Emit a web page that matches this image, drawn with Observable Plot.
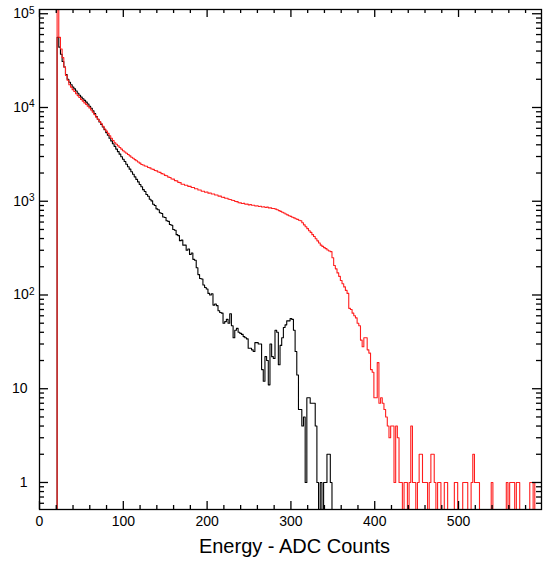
<!DOCTYPE html>
<html><head><meta charset="utf-8">
<script src="https://cdn.jsdelivr.net/npm/d3@7"></script>
<script src="https://cdn.jsdelivr.net/npm/@observablehq/plot@0.6"></script>
<style>body{margin:0;background:#fff}</style>
</head><body><div id="chart"></div>
<script>
// Histogram bins: left edge of first bin (ADC) and bin width
const binStart = 19;
const binWidth = 2;

// Red spectrum counts per bin (starting at ADC 19)
const redCounts = [
  0, 200000, 56000, 42000, 34000, 27000, 22000, 19500, 17500, 16500,
  15500, 14800, 14000, 13400, 12800, 12200, 11700, 11200, 10800, 10300,
  9900, 9400, 8900, 8400, 7900, 7500, 7100, 6700, 6300, 5900,
  5600, 5300, 5000, 4700, 4450, 4200, 4050, 3900, 3750, 3600,
  3450, 3350, 3250, 3150, 3050, 2950, 2870, 2780, 2700, 2620,
  2550, 2470, 2440, 2380, 2360, 2290, 2270, 2210, 2190, 2130,
  2110, 2050, 2030, 1970, 1950, 1890, 1870, 1810, 1790, 1730,
  1720, 1660, 1650, 1590, 1580, 1520, 1520, 1480, 1480, 1440,
  1440, 1400, 1400, 1360, 1360, 1320, 1320, 1280, 1280, 1245,
  1255, 1220, 1225, 1195, 1195, 1165, 1165, 1135, 1135, 1105,
  1100, 1075, 1075, 1050, 1045, 1025, 1020, 995, 990, 965,
  960, 945, 948, 928, 932, 915, 920, 905, 906, 890,
  895, 880, 885, 868, 875, 858, 865, 850, 850, 838,
  836, 825, 812, 795, 780, 762, 748, 730, 716, 700,
  690, 675, 665, 650, 640, 628, 620, 590, 560, 535,
  510, 485, 465, 440, 420, 398, 378, 358, 340, 330,
  320, 312, 302, 295, 290, 250, 206, 190, 172, 158,
  143, 132, 122, 112, 104, 72, 70, 64, 60, 57,
  50, 47, 33, 28, 35, 35, 26, 24, 16, 15,
  8, 8, 19, 7, 8, 7, 6, 5, 4, 3,
  4, 4, 1, 4, 3, 1, 1, 0, 1, 1,
  0, 1, 4, 1, 1, 0, 1, 2, 2, 1,
  1, 1, 0, 1, 2, 2, 1, 0, 1, 1,
  0, 0, 1, 1, 0, 0, 0, 0, 1, 1,
  0, 0, 0, 1, 1, 1, 0, 0, 1, 2,
  1, 1, 1, 0, 0, 0, 0, 0, 0, 0,
  1, 0, 0, 0, 0, 0, 0, 0, 0, 1,
  0, 1, 1, 1, 0, 1, 1, 0, 0, 0,
  0, 0, 0, 1, 1, 0, 1, 1, 1, 1,
  1
];

// Black spectrum counts per bin (starting at ADC 19)
const blackCounts = [
  0, 56000, 44000, 37000, 31000, 27000, 22500, 20000, 18600, 17500,
  16500, 15800, 15000, 14200, 13500, 12900, 12400, 11900, 11400, 10900,
  10300, 9800, 9200, 8600, 8000, 7500, 7000, 6600, 6200, 5800,
  5400, 5050, 4700, 4400, 4100, 3850, 3600, 3380, 3180, 2980,
  2800, 2650, 2480, 2330, 2200, 2060, 1940, 1820, 1710, 1610,
  1510, 1430, 1330, 1270, 1180, 1130, 1050, 1010, 930, 900,
  830, 810, 755, 740, 680, 670, 620, 610, 565, 555,
  500, 490, 440, 430, 380, 385, 340, 340, 300, 310,
  270, 280, 240, 235, 195, 165, 150, 148, 128, 120,
  116, 104, 100, 103, 78, 80, 77, 68, 65, 64,
  50, 52, 55, 50, 63, 47, 35, 42, 44, 40,
  39, 38, 36, 35, 34, 27, 27, 26, 25, 31,
  31, 30, 30, 16, 12, 22, 20, 11, 30, 22,
  21, 42, 40, 18, 29, 35, 45, 48, 53, 53,
  56, 55, 42, 25, 14, 6, 6, 4, 5, 1,
  8, 8, 7, 7, 7, 4, 1, 0, 1, 0,
  1, 1, 2, 2, 1, 0
];

const xTicks = [0, 100, 200, 300, 400, 500];
const yTicks = [1, 10, 100, 1000, 10000, 100000];
const yTickLabels = ["1", "10", "10^2", "10^3", "10^4", "10^5"];
const xLabel = "Energy - ADC Counts";

const W = 543, H = 561;
const mL = 39, mR = 2, mT = 9, mB = 52;
const pw = W - mL - mR, ph = H - mT - mB;

function toSeries(counts) {
  const pts = counts.map((c, i) => ({x: binStart + i * binWidth, y: c > 0 ? c : 0.05}));
  const last = pts[pts.length - 1];
  pts.push({x: last.x + binWidth, y: last.y});
  return pts;
}
const red = toSeries(redCounts);
const black = toSeries(blackCounts);

const yMinor = [];
for (let e = -1; e <= 4; e++) for (let k = 2; k <= 9; k++) {
  const v = k * Math.pow(10, e);
  if (v >= 0.52 && v <= 1.1e5) yMinor.push(v);
}
const xMinor = d3.range(0, 600, 20).filter(v => v % 100 !== 0);

const tickStyle = {stroke: "#000", strokeWidth: 1.3};

const plot = Plot.plot({
  width: W, height: H,
  marginLeft: mL, marginRight: mR, marginTop: mT, marginBottom: mB,
  style: {background: "#fff", color: "#000", fontFamily: "'Liberation Sans', Arial, Helvetica, sans-serif", fontSize: "14px"},
  x: {domain: [0, 599]},
  y: {type: "log", domain: [0.515, 1.11e5]},
  marks: [
    Plot.lineY(black, {x: "x", y: "y", curve: "step-after", stroke: "#000", strokeWidth: 1.1, clip: true}),
    Plot.lineY(red, {x: "x", y: "y", curve: "step-after", stroke: "#ff1e1e", strokeWidth: 1.1, clip: true}),
    Plot.frame({stroke: "#000", strokeWidth: 1.3}),
    Plot.ruleY(yTicks, {...tickStyle, insetRight: pw - 9}),
    Plot.ruleY(yTicks, {...tickStyle, insetLeft: pw - 9}),
    Plot.ruleY(yMinor, {...tickStyle, insetRight: pw - 5}),
    Plot.ruleY(yMinor, {...tickStyle, insetLeft: pw - 5}),
    Plot.ruleX(xTicks, {...tickStyle, insetTop: ph - 8}),
    Plot.ruleX(xTicks, {...tickStyle, insetBottom: ph - 8}),
    Plot.ruleX(xMinor, {...tickStyle, insetTop: ph - 4}),
    Plot.ruleX(xMinor, {...tickStyle, insetBottom: ph - 4}),
    Plot.axisX({ticks: xTicks, tickSize: 0, tickPadding: 7, label: null}),
    Plot.axisY({ticks: yTicks, tickSize: 0, tickPadding: 5, label: null,
      tickFormat: d => yTickLabels[yTicks.indexOf(d)]}),
    Plot.text([xLabel], {text: d => d, frameAnchor: "bottom", dy: 43, dx: 4, fontSize: 20})
  ]
});

d3.select(plot).selectAll("text").each(function () {
  const t = this.textContent;
  const m = /^10\^(\d)$/.exec(t);
  if (m) {
    this.textContent = "10";
    d3.select(this).append("tspan").attr("dy", "-0.45em").attr("font-size", "0.72em").text(m[1]);
  } else if (t === "10" || t === "1") {
    d3.select(this).attr("dx", -7);
  }
});

document.getElementById("chart").appendChild(plot);
</script>
</body></html>
